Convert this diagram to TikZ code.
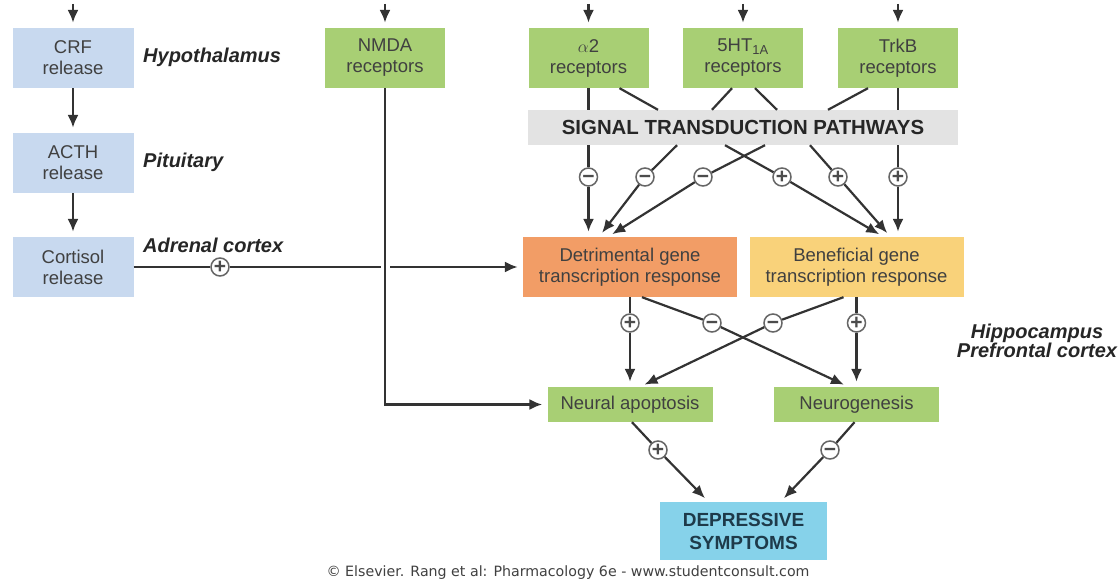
\documentclass[tikz,border=0pt]{standalone}
\usepackage{fontspec}
\setmainfont{Liberation Sans}
\setsansfont{Liberation Sans}
\newfontfamily\creditfont{DejaVu Sans}
\usetikzlibrary{arrows.meta}

\definecolor{hpablue}{HTML}{C8D9EF}
\definecolor{recgreen}{HTML}{A8CF74}
\definecolor{pathgray}{HTML}{E3E3E3}
\definecolor{detorange}{HTML}{F29D66}
\definecolor{benyellow}{HTML}{F9D27A}
\definecolor{depcyan}{HTML}{86D2EA}
\definecolor{linegray}{HTML}{333333}
\definecolor{deptext}{HTML}{1E3A4A}

\begin{document}
\begin{tikzpicture}[x=1pt, y=-1pt,
  box/.style={inner sep=0pt, align=center, text=black!75, font=\sffamily\fontsize{18.5}{21}\selectfont},
  hpa/.style={box, fill=hpablue, minimum width=121pt, minimum height=60pt},
  rec/.style={box, fill=recgreen, minimum width=120pt, minimum height=60pt},
  gene/.style={box, minimum width=214pt, minimum height=60pt},
  effect/.style={box, fill=recgreen, minimum width=165pt, minimum height=35pt},
  region/.style={inner sep=0pt, text=black!85, font=\sffamily\bfseries\itshape\fontsize{20}{19}\selectfont},
  sign/.style={circle, draw=black!60, line width=1.5pt, fill=white, minimum size=18pt,
    inner sep=0pt, text=black!70, font=\sffamily\bfseries\fontsize{21}{21}\selectfont},
  link/.style={draw=linegray, line width=2.2pt},
  arr/.style={link, -{Latex[length=13pt, width=11pt]}, shorten >=5pt}]
  \fill[white] (0,0) rectangle (1120,588);
  \useasboundingbox (0,0) rectangle (1120,588);

  % HPA axis
  \node[hpa] (crf) at (73,58) {CRF\\release};
  \node[hpa] (acth) at (73,163) {ACTH\\release};
  \node[hpa] (cort) at (73,267) {Cortisol\\release};
  \node[region, anchor=west] (hyp) at (143,57) {Hypothalamus};
  \node[region, anchor=west] (pit) at (143,162) {Pituitary};
  \node[region, anchor=west] (adr) at (143,245) {Adrenal cortex};

  \node[rec] (nmda) at (385,58) {NMDA\\receptors};
  \node[rec] (a2) at (588.5,58) {$\alpha$2\\receptors};
  \node[rec] (ht) at (743,58) {5HT\textsubscript{1A}\\receptors};
  \node[rec] (trkb) at (898,58) {TrkB\\receptors};
  \node[box, fill=pathgray, minimum width=430pt, minimum height=35pt, text=black!85,
    font=\sffamily\bfseries\fontsize{20.4}{20}\selectfont] (stp) at (743,127.5) {SIGNAL TRANSDUCTION PATHWAYS};

  \node[gene, fill=detorange] (det) at (630,267) {Detrimental gene\\transcription response};
  \node[gene, fill=benyellow] (ben) at (856.5,267) {Beneficial gene\\transcription response};
  \node[effect] (apop) at (630,404.5) {Neural apoptosis};
  \node[effect] (neuro) at (856.5,404.5) {Neurogenesis};
  \node[box, fill=depcyan, minimum width=167pt, minimum height=58pt, text=deptext,
    font=\sffamily\bfseries\fontsize{19}{23}\selectfont] (dep) at (743.5,531) {DEPRESSIVE\\SYMPTOMS};
  \node[region, align=center] (hip) at (1037,341) {Hippocampus\\Prefrontal cortex};
  \node[inner sep=0pt, text=black!75, font=\creditfont\fontsize{14.2}{14}\selectfont] (credit) at (568,573)
    {© Elsevier. Rang et al: Pharmacology 6e - www.studentconsult.com};

  \node[sign] (pc) at (220,267) {+};
  \node[sign] (m1) at (588.5,177) {\vphantom{+}−};
  \node[sign] (m2) at (645,177) {\vphantom{+}−};
  \node[sign] (m3) at (703,177) {\vphantom{+}−};
  \node[sign] (p1) at (782,177) {+};
  \node[sign] (p2) at (838,177) {+};
  \node[sign] (p3) at (898,177) {+};
  \node[sign] (q1) at (630,323) {+};
  \node[sign] (q2) at (712,323) {\vphantom{+}−};
  \node[sign] (q3) at (773,323) {\vphantom{+}−};
  \node[sign] (q4) at (856.5,323) {+};
  \node[sign] (r1) at (658,450) {+};
  \node[sign] (r2) at (830,450) {\vphantom{+}−};

  \foreach \n in {crf, nmda, a2, ht, trkb} {
    \coordinate (\n-in) at ([yshift=24pt]\n.north);
    \draw[arr] (\n-in) -- (\n);
  }
  \draw[arr] (crf) -- (acth);
  \draw[arr] (acth) -- (cort);
  \draw[link] (cort) -- (pc);
  \draw[arr] (pc) -- (det);
  \draw[arr, preaction={draw=white, line width=9pt, -, shorten >=0pt}] (nmda) |- (apop);

  \draw[link] (a2) -- (a2 |- stp.north);
  \draw[link] ([xshift=31pt]a2.south) -- ([xshift=-85pt]stp.north);
  \draw[link] ([xshift=-11pt]ht.south) -- ([xshift=-31pt]stp.north);
  \draw[link] ([xshift=12pt]ht.south) -- ([xshift=34pt]stp.north);
  \draw[link] ([xshift=-30pt]trkb.south) -- ([xshift=85pt]stp.north);
  \draw[link] (trkb) -- (trkb |- stp.north);

  \draw[link] (m1 |- stp.south) -- (m1);
  \draw[arr] (m1) -- (m1 |- det.north);
  \draw[link] ([xshift=-66pt]stp.south) -- (m2);
  \draw[arr] (m2) -- ([xshift=-31pt]det.north);
  \draw[link] ([xshift=22pt]stp.south) -- (m3);
  \draw[arr] (m3) -- ([xshift=-22pt]det.north);
  \draw[link] ([xshift=-18pt]stp.south) -- (p1);
  \draw[arr] (p1) -- ([xshift=27pt]ben.north);
  \draw[link] ([xshift=67pt]stp.south) -- (p2);
  \draw[arr] (p2) -- ([xshift=34pt]ben.north);
  \draw[link] (p3 |- stp.south) -- (p3);
  \draw[arr] (p3) -- (p3 |- ben.north);

  \draw[link] (det) -- (q1);
  \draw[arr] (q1) -- (apop);
  \draw[link] ([xshift=12pt]det.south) -- (q2);
  \draw[arr] (q2) -- ([xshift=-8pt]neuro.north);
  \draw[link] ([xshift=-13pt]ben.south) -- (q3);
  \draw[arr] (q3) -- ([xshift=10pt]apop.north);
  \draw[link] (ben) -- (q4);
  \draw[arr] (q4) -- (neuro);

  \draw[link] ([xshift=2pt]apop.south) -- (r1);
  \draw[arr] (r1) -- ([xshift=-35pt]dep.north);
  \draw[link] ([xshift=-2pt]neuro.south) -- (r2);
  \draw[arr] (r2) -- ([xshift=37pt]dep.north);
\end{tikzpicture}
\end{document}
